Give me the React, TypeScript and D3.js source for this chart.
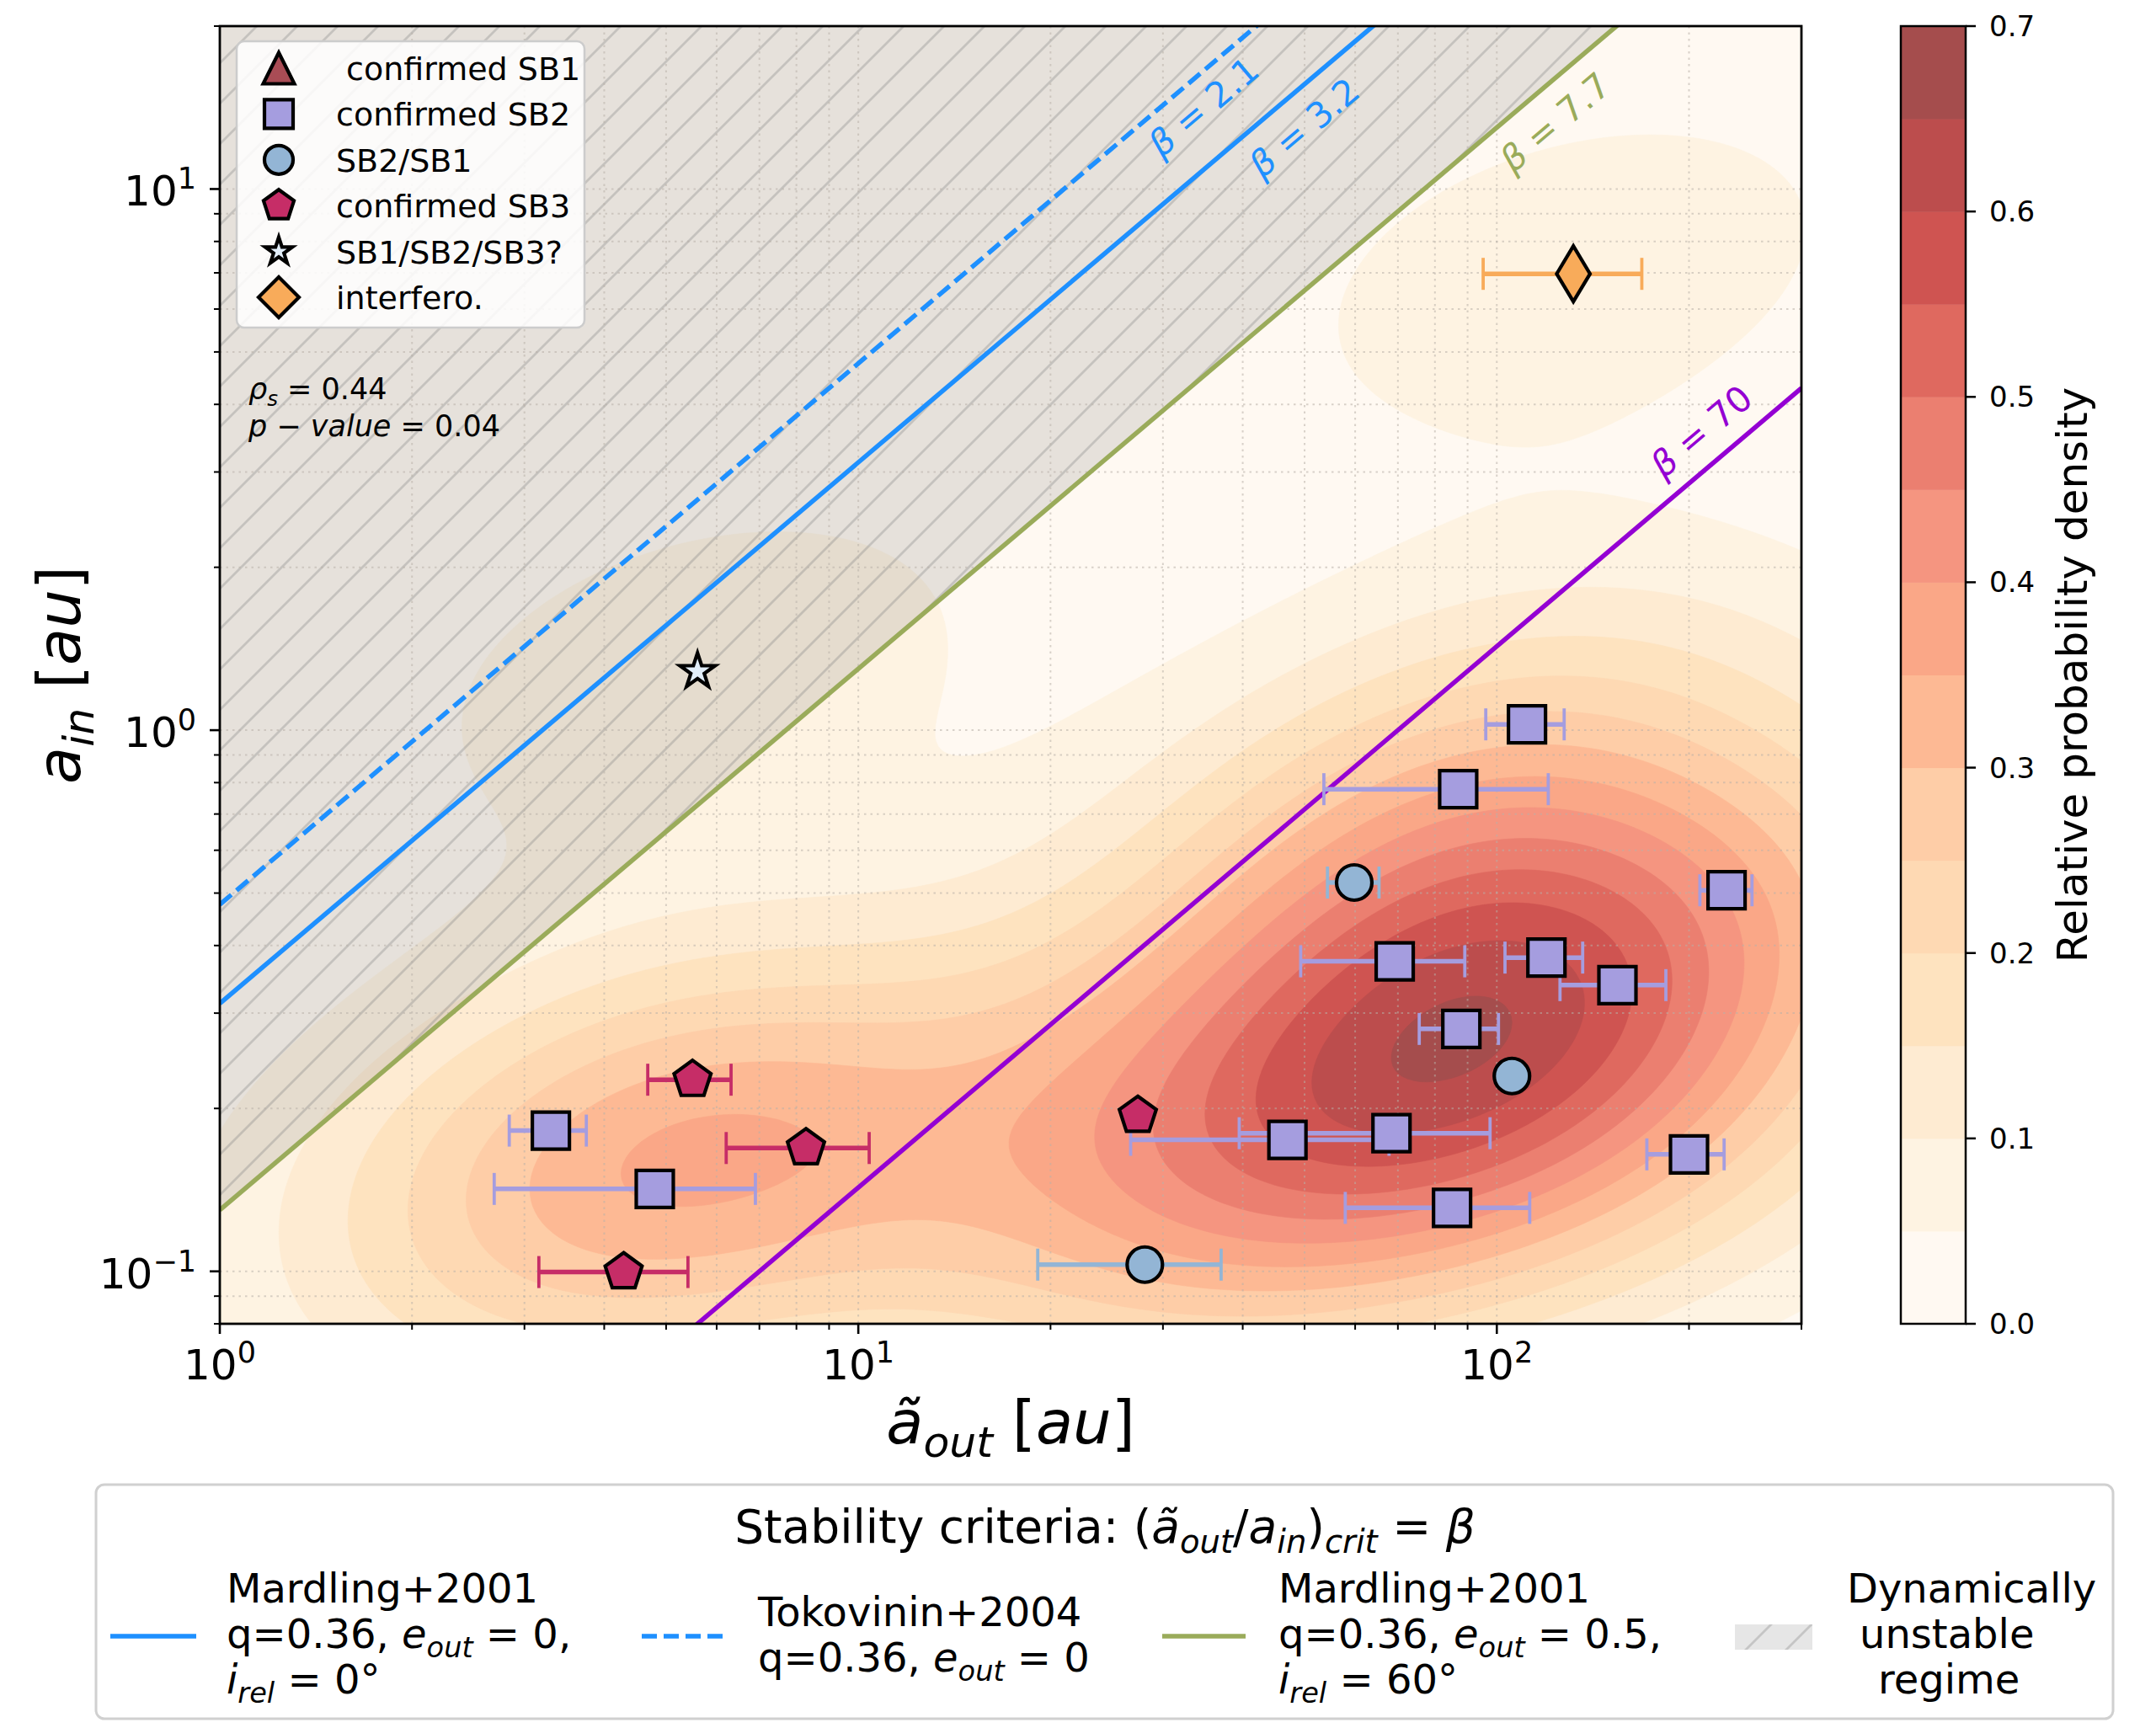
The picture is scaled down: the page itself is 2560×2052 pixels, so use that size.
import { useMemo } from 'react';
import * as d3 from 'd3';

const W = 2560;
const H = 2052;

// confirmed SB2 (squares): outer / inner separations [au] and outer error bounds
const sb2Aout = [111.5, 87, 229, 69.2, 119.6, 154.5, 88, 47, 68.4, 85.1, 200, 3.3, 4.8];
const sb2Ain = [1.025, 0.778, 0.506, 0.374, 0.38, 0.338, 0.2805, 0.175, 0.18, 0.131, 0.1645, 0.182, 0.142];
const sb2Lo = [96.1, 53.6, 208, 49.3, 103, 125.6, 75.6, 26.7, 39.5, 57.9, 171.8, 2.84, 2.69];
const sb2Hi = [127.5, 120.4, 251, 89.1, 136.3, 184, 100.6, 67.8, 97.6, 112.6, 227, 3.75, 6.9];

// SB2/SB1 (circles)
const sb21Aout = [59.8, 105.6, 28.1];
const sb21Ain = [0.523, 0.2296, 0.1029];
const sb21Lo: (number | null)[] = [54.3, null, 19.1];
const sb21Hi: (number | null)[] = [65.4, null, 37.0];

// confirmed SB3 (pentagons)
const sb3Aout = [5.5, 8.28, 4.29, 27.4];
const sb3Ain = [0.226, 0.169, 0.0997, 0.194];
const sb3Lo: (number | null)[] = [4.68, 6.21, 3.16, null];
const sb3Hi: (number | null)[] = [6.32, 10.4, 5.41, null];

// SB1/SB2/SB3? (star)
const candAout = [5.6];
const candAin = [1.284];

// interferometric (thin diamond)
const interfAout = [131.8];
const interfAin = [6.97];
const interfLo = [95.2];
const interfHi = [168.7];

// stability criteria
const betaValues = [2.1, 3.2, 7.7, 70];
const betaColors = ['#1e90ff', '#1e90ff', '#9aab5a', '#9400d3'];
const betaDash = [true, false, false, false];
const betaLabelAt = [[34.7, 14.2], [49.9, 13.0], [123.3, 13.3], [209, 3.57]];
const xSpan = [1, 300];

const densityLevels = [0, 0.05, 0.1, 0.15, 0.2, 0.25, 0.3, 0.35, 0.4, 0.45, 0.5, 0.55, 0.6, 0.65, 0.7];
const cbarTicks = [0, 0.1, 0.2, 0.3, 0.4, 0.5, 0.6, 0.7];

const FONT = 'DejaVu Sans';

type Seg = { t: string; i?: boolean; sub?: boolean; sup?: boolean };

function MathText({ segs, size, ...rest }: { segs: Seg[]; size: number; [k: string]: any }) {
  let cur = 0;
  return (
    <text fontSize={size} fontFamily={FONT} style={{ whiteSpace: 'pre' }} {...rest}>
      {segs.map((s, k) => {
        const target = s.sub ? 0.22 * size : s.sup ? -0.4 * size : 0;
        const dy = target - cur;
        cur = target;
        return (
          <tspan key={k} dy={dy} fontSize={s.sub || s.sup ? 0.7 * size : size} fontStyle={s.i ? 'italic' : 'normal'}>
            {s.t}
          </tspan>
        );
      })}
    </text>
  );
}

function shapePath(kind: string, s: number): string {
  if (kind === 'square') return `M${-s / 2},${-s / 2}H${s / 2}V${s / 2}H${-s / 2}Z`;
  if (kind === 'triangle') return `M0,${-s / 2}L${s / 2},${s / 2}L${-s / 2},${s / 2}Z`;
  if (kind === 'diamond') return `M0,${-s}L${s},0L0,${s}L${-s},0Z`;
  if (kind === 'thindiamond') return `M0,${-s / 2}L${0.3 * s},0L0,${s / 2}L${-0.3 * s},0Z`;
  if (kind === 'pentagon') {
    const pts = d3.range(5).map(k => {
      const a = -Math.PI / 2 + (k * 2 * Math.PI) / 5;
      return [s * Math.cos(a), s * Math.sin(a)];
    });
    return 'M' + pts.map(p => p.join(',')).join('L') + 'Z';
  }
  if (kind === 'star') {
    const pts = d3.range(10).map(k => {
      const a = -Math.PI / 2 + (k * Math.PI) / 5;
      const r = k % 2 === 0 ? s : s * 0.381966;
      return [r * Math.cos(a), r * Math.sin(a)];
    });
    return 'M' + pts.map(p => p.join(',')).join('L') + 'Z';
  }
  return '';
}

function Marker({ kind, x, y, s, fill }: { kind: string; x: number; y: number; s: number; fill: string }) {
  if (kind === 'circle')
    return <circle cx={x} cy={y} r={s} fill={fill} stroke="black" strokeWidth={4.2} />;
  return (
    <path d={shapePath(kind, s)} transform={`translate(${x},${y})`} fill={fill} stroke="black" strokeWidth={4.2} strokeLinejoin="miter" />
  );
}

function makeKde(px: number[], py: number[]) {
  const n = px.length;
  const mx = d3.mean(px) as number;
  const my = d3.mean(py) as number;
  let sxx = 0, syy = 0, sxy = 0;
  for (let i = 0; i < n; i++) {
    const dx = px[i] - mx, dy = py[i] - my;
    sxx += dx * dx; syy += dy * dy; sxy += dx * dy;
  }
  sxx /= n - 1; syy /= n - 1; sxy /= n - 1;
  const f2 = Math.pow(n, -2 / 6);
  const a = sxx * f2, b = sxy * f2, c = syy * f2;
  const det = a * c - b * b;
  const ia = c / det, ib = -b / det, ic = a / det;
  const norm = 1 / (2 * Math.PI * Math.sqrt(det) * n);
  return (x: number, y: number) => {
    let s = 0;
    for (let i = 0; i < n; i++) {
      const dx = x - px[i], dy = y - py[i];
      s += Math.exp(-0.5 * (ia * dx * dx + 2 * ib * dx * dy + ic * dy * dy));
    }
    return s * norm;
  };
}

export default function App() {
  const L = 261, R = 2139, T = 31, B = 1572;
  const xScale = d3.scaleLog().domain([1, 300]).range([L, R]);
  const yScale = d3.scaleLog().domain([0.08, 20]).range([B, T]);
  const cScale = d3.scaleLinear().domain([0, 0.7]).range([B, T]);

  const orrd = d3.scaleLinear<string>()
    .domain(d3.range(9).map(i => i / 8))
    .range(d3.schemeOrRd[9] as string[])
    .interpolate(d3.interpolateRgb);
  const nBands = densityLevels.length - 1;
  const bandColor = (i: number) => d3.interpolateRgb('#ffffff', orrd(i / (nBands - 1)))(0.7);

  const contourPaths = useMemo(() => {
    const allX = [...sb2Aout, ...sb21Aout, ...sb3Aout, ...candAout, ...interfAout].map(Math.log10);
    const allY = [...sb2Ain, ...sb21Ain, ...sb3Ain, ...candAin, ...interfAin].map(Math.log10);
    const f = makeKde(allX, allY);
    const step = 0.01, lx0 = -0.15, ly0 = -1.25, nx = 280, ny = 280;
    const values: number[] = new Array(nx * ny);
    for (let j = 0; j < ny; j++)
      for (let i = 0; i < nx; i++) values[j * nx + i] = f(lx0 + i * step, ly0 + j * step);
    const polys = d3.contours().size([nx, ny]).thresholds(densityLevels.slice(1, -1))(values);
    const proj = d3.geoTransform({
      point(x: number, y: number) {
        (this as any).stream.point(
          xScale(Math.pow(10, lx0 + (x - 0.5) * step)),
          yScale(Math.pow(10, ly0 + (y - 0.5) * step))
        );
      },
    });
    const gp = d3.geoPath(proj);
    return polys.map(p => gp(p as any));
  }, []);

  const xTicks = xScale.ticks();
  const yTicks = yScale.ticks();
  const isMajor = (v: number) => Math.abs(Math.log10(v) - Math.round(Math.log10(v))) < 1e-6;

  const unstable = d3.area<number>()
    .x(d => xScale(d))
    .y0(d => yScale(d / 7.7))
    .y1(() => yScale(20))(xSpan) as string;

  const errBar = (lo: number, hi: number, y: number, color: string, key: string) => (
    <g key={key} stroke={color}>
      <line x1={xScale(lo)} x2={xScale(hi)} y1={yScale(y)} y2={yScale(y)} strokeWidth={5.5} />
      <line x1={xScale(lo)} x2={xScale(lo)} y1={yScale(y) - 19} y2={yScale(y) + 19} strokeWidth={3.8} />
      <line x1={xScale(hi)} x2={xScale(hi)} y1={yScale(y) - 19} y2={yScale(y) + 19} strokeWidth={3.8} />
    </g>
  );

  const colSq = '#a59ddf';
  const colCi = '#93b5d5';
  const colPe = '#c62d67';
  const colTr = '#a94c55';
  const colSt = '#e1edf8';
  const colDi = '#f8ab5a';

  const legendItems = [
    { kind: 'triangle', s: 37, fill: colTr, label: ' confirmed SB1' },
    { kind: 'square', s: 34, fill: colSq, label: 'confirmed SB2' },
    { kind: 'circle', s: 17, fill: colCi, label: 'SB2/SB1' },
    { kind: 'pentagon', s: 19, fill: colPe, label: 'confirmed SB3' },
    { kind: 'star', s: 17, fill: colSt, label: 'SB1/SB2/SB3?' },
    { kind: 'diamond', s: 24, fill: colDi, label: 'interfero.' },
  ];

  const bl = 48;
  const bottomRows1: Seg[][] = [
    [{ t: 'Mardling+2001' }],
    [{ t: 'q=0.36, ' }, { t: 'e', i: true }, { t: 'out', i: true, sub: true }, { t: ' = 0,' }],
    [{ t: 'i', i: true }, { t: 'rel', i: true, sub: true }, { t: ' = 0°' }],
  ];
  const bottomRows2: Seg[][] = [
    [{ t: 'Tokovinin+2004' }],
    [{ t: 'q=0.36, ' }, { t: 'e', i: true }, { t: 'out', i: true, sub: true }, { t: ' = 0' }],
  ];
  const bottomRows3: Seg[][] = [
    [{ t: 'Mardling+2001' }],
    [{ t: 'q=0.36, ' }, { t: 'e', i: true }, { t: 'out', i: true, sub: true }, { t: ' = 0.5,' }],
    [{ t: 'i', i: true }, { t: 'rel', i: true, sub: true }, { t: ' = 60°' }],
  ];

  return (
    <svg width={W} height={H} style={{ position: 'absolute', left: 0, top: 0, background: 'white' }} fontFamily={FONT}>
      <defs>
        <clipPath id="plotClip">
          <rect x={L} y={T} width={R - L} height={B - T} />
        </clipPath>
        <pattern id="hatch" patternUnits="userSpaceOnUse" width={48} height={48}>
          <g stroke="#808080" strokeOpacity={0.32} strokeWidth={2.8}>
            <line x1={0} y1={48} x2={48} y2={0} />
            <line x1={-6} y1={6} x2={6} y2={-6} />
            <line x1={42} y1={54} x2={54} y2={42} />
          </g>
        </pattern>
      </defs>
      <rect x={0} y={0} width={W} height={H} fill="white" />

      <g clipPath="url(#plotClip)">
        <rect x={L} y={T} width={R - L} height={B - T} fill={bandColor(0)} />
        {contourPaths.map((d, i) => (d ? <path key={i} d={d} fill={bandColor(i + 1)} stroke={bandColor(i + 1)} strokeWidth={0.6} /> : null))}
        <path d={unstable} fill="#808080" fillOpacity={0.2} />
        <path d={unstable} fill="url(#hatch)" />
        <g stroke="#b8b0a8" strokeOpacity={0.55} strokeWidth={2} strokeDasharray="2.5,5">
          {xTicks.map((v, i) => <line key={'gx' + i} x1={xScale(v)} x2={xScale(v)} y1={T} y2={B} />)}
          {yTicks.map((v, i) => <line key={'gy' + i} x1={L} x2={R} y1={yScale(v)} y2={yScale(v)} />)}
        </g>
        {betaValues.map((b, i) => (
          <line
            key={'b' + i}
            x1={xScale(xSpan[0])}
            y1={yScale(xSpan[0] / b)}
            x2={xScale(xSpan[1])}
            y2={yScale(xSpan[1] / b)}
            stroke={betaColors[i]}
            strokeWidth={5.5}
            strokeDasharray={betaDash[i] ? '18,8' : undefined}
          />
        ))}
      </g>

      {betaValues.map((b, i) => (
        <MathText
          key={'bl' + i}
          size={42}
          segs={[{ t: 'β', i: true }, { t: ' = ' + b }]}
          fill={betaColors[i]}
          textAnchor="middle"
          dominantBaseline="central"
          transform={`translate(${xScale(betaLabelAt[i][0])},${yScale(betaLabelAt[i][1])}) rotate(-40.3)`}
        />
      ))}

      {/* error bars */}
      {sb2Aout.map((_, i) => errBar(sb2Lo[i], sb2Hi[i], sb2Ain[i], colSq, 'e2' + i))}
      {sb21Aout.map((_, i) => (sb21Lo[i] != null ? errBar(sb21Lo[i] as number, sb21Hi[i] as number, sb21Ain[i], colCi, 'e21' + i) : null))}
      {sb3Aout.map((_, i) => (sb3Lo[i] != null ? errBar(sb3Lo[i] as number, sb3Hi[i] as number, sb3Ain[i], colPe, 'e3' + i) : null))}
      {interfAout.map((_, i) => errBar(interfLo[i], interfHi[i], interfAin[i], colDi, 'ei' + i))}

      {/* markers */}
      {sb2Aout.map((x, i) => <Marker key={'m2' + i} kind="square" x={xScale(x)} y={yScale(sb2Ain[i])} s={44} fill={colSq} />)}
      {sb21Aout.map((x, i) => <Marker key={'m21' + i} kind="circle" x={xScale(x)} y={yScale(sb21Ain[i])} s={21} fill={colCi} />)}
      {sb3Aout.map((x, i) => <Marker key={'m3' + i} kind="pentagon" x={xScale(x)} y={yScale(sb3Ain[i])} s={23} fill={colPe} />)}
      {candAout.map((x, i) => <Marker key={'mc' + i} kind="star" x={xScale(x)} y={yScale(candAin[i])} s={22} fill={colSt} />)}
      {interfAout.map((x, i) => <Marker key={'mi' + i} kind="thindiamond" x={xScale(x)} y={yScale(interfAin[i])} s={66} fill={colDi} />)}

      {/* correlation text */}
      <MathText x={295} y={474} size={35} segs={[{ t: 'ρ', i: true }, { t: 's', i: true, sub: true }, { t: ' = 0.44' }]} />
      <MathText x={295} y={518} size={35} segs={[{ t: 'p', i: true }, { t: ' − ' }, { t: 'value', i: true }, { t: ' = 0.04' }]} />

      {/* top-left legend */}
      <rect x={281} y={49} width={413} height={340} rx={9} fill="white" fillOpacity={0.85} stroke="#cccccc" strokeWidth={2.5} />
      {legendItems.map((it, i) => {
        const cy = 81 + i * 54.4;
        return (
          <g key={'lg' + i}>
            <Marker kind={it.kind} x={331} y={cy} s={it.s} fill={it.fill} />
            <text x={399} y={cy + 14} fontSize={38} style={{ whiteSpace: 'pre' }}>{it.label}</text>
          </g>
        );
      })}

      {/* axes frame and ticks */}
      <rect x={L} y={T} width={R - L} height={B - T} fill="none" stroke="black" strokeWidth={2.8} />
      {xTicks.map((v, i) => (
        <line key={'xt' + i} x1={xScale(v)} x2={xScale(v)} y1={B} y2={B + (isMajor(v) ? 12 : 7)} stroke="black" strokeWidth={isMajor(v) ? 2.6 : 2} />
      ))}
      {yTicks.map((v, i) => (
        <line key={'yt' + i} x1={L} x2={L - (isMajor(v) ? 12 : 7)} y1={yScale(v)} y2={yScale(v)} stroke="black" strokeWidth={isMajor(v) ? 2.6 : 2} />
      ))}
      {xTicks.filter(isMajor).map((v, i) => {
        const e = Math.round(Math.log10(v));
        return (
          <MathText key={'xl' + i} x={xScale(v)} y={1638} size={50} textAnchor="middle"
            segs={[{ t: '10' }, { t: e < 0 ? '−' + Math.abs(e) : String(e), sup: true }]} />
        );
      })}
      {yTicks.filter(isMajor).map((v, i) => {
        const e = Math.round(Math.log10(v));
        return (
          <MathText key={'yl' + i} x={233} y={yScale(v) + 20} size={50} textAnchor="end"
            segs={[{ t: '10' }, { t: e < 0 ? '−' + Math.abs(e) : String(e), sup: true }]} />
        );
      })}
      <MathText x={(L + R) / 2} y={1714} size={72} textAnchor="middle"
        segs={[{ t: 'ã', i: true }, { t: 'out', i: true, sub: true }, { t: ' [' }, { t: 'au', i: true }, { t: ']' }]} />
      <MathText x={0} y={0} size={72} textAnchor="middle" transform={`translate(95,${(T + B) / 2}) rotate(-90)`}
        segs={[{ t: 'a', i: true }, { t: 'in', i: true, sub: true }, { t: ' [' }, { t: 'au', i: true }, { t: ']' }]} />

      {/* colorbar */}
      {densityLevels.slice(0, -1).map((v, i) => (
        <rect key={'cb' + i} x={2257} width={77} y={cScale(densityLevels[i + 1])} height={cScale(v) - cScale(densityLevels[i + 1]) + 0.5} fill={bandColor(i)} />
      ))}
      <rect x={2257} y={T} width={77} height={B - T} fill="none" stroke="black" strokeWidth={2.5} />
      {cbarTicks.map((v, i) => (
        <g key={'ct' + i}>
          <line x1={2334} x2={2346} y1={cScale(v)} y2={cScale(v)} stroke="black" strokeWidth={2.5} />
          <text x={2362} y={cScale(v) + 12} fontSize={34}>{v.toFixed(1)}</text>
        </g>
      ))}
      <text transform={`translate(2478,${(T + B) / 2}) rotate(-90)`} textAnchor="middle" fontSize={50}>Relative probability density</text>

      {/* bottom legend */}
      <rect x={114} y={1763} width={2395} height={278} rx={10} fill="white" stroke="#d0d0d0" strokeWidth={3} />
      <MathText x={1312} y={1832} size={55} textAnchor="middle"
        segs={[
          { t: 'Stability criteria: (' }, { t: 'ã', i: true }, { t: 'out', i: true, sub: true }, { t: '/' },
          { t: 'a', i: true }, { t: 'in', i: true, sub: true }, { t: ')' }, { t: 'crit', i: true, sub: true },
          { t: ' = ' }, { t: 'β', i: true },
        ]} />
      <line x1={131} x2={233} y1={1943} y2={1943} stroke={betaColors[1]} strokeWidth={5.5} />
      {bottomRows1.map((r, i) => <MathText key={'r1' + i} x={269} y={1903 + i * 54} size={bl} segs={r} />)}
      <line x1={762} x2={862} y1={1943} y2={1943} stroke={betaColors[0]} strokeWidth={5.5} strokeDasharray="18,8" />
      {bottomRows2.map((r, i) => <MathText key={'r2' + i} x={900} y={1931 + i * 54} size={bl} segs={r} />)}
      <line x1={1380} x2={1479} y1={1943} y2={1943} stroke={betaColors[2]} strokeWidth={5.5} />
      {bottomRows3.map((r, i) => <MathText key={'r3' + i} x={1518} y={1903 + i * 54} size={bl} segs={r} />)}
      <rect x={2060} y={1929} width={92} height={30} fill="#808080" fillOpacity={0.2} />
      <rect x={2060} y={1929} width={92} height={30} fill="url(#hatch)" />
      <text x={2193} y={1903} fontSize={bl}>Dynamically</text>
      <text x={2208} y={1957} fontSize={bl}>unstable</text>
      <text x={2230} y={2011} fontSize={bl}>regime</text>
    </svg>
  );
}
